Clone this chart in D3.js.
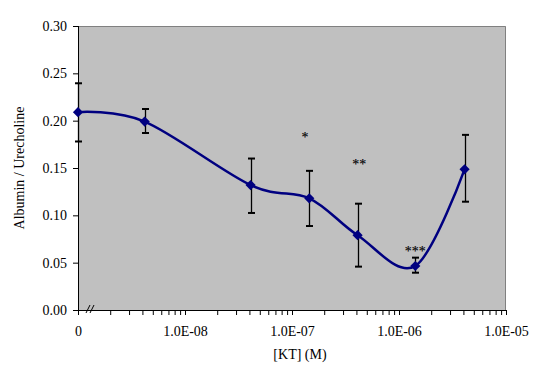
<!DOCTYPE html>
<html>
<head>
<meta charset="utf-8">
<script src="https://cdn.jsdelivr.net/npm/d3@7"></script>
<style>
  body { margin: 0; background: #fff; }
  text { font-family: "Liberation Serif", "Times New Roman", serif; fill: #000; }
</style>
</head>
<body>
<div class="chart"></div>
<script>
// concentrations of KT (M); 0 is the control, drawn at the left end of the log axis
const concentrations = [0, 4.2e-9, 4.1e-8, 1.45e-7, 4.1e-7, 1.42e-6, 4.1e-6];
const ratios = [0.209, 0.199, 0.132, 0.118, 0.079, 0.0465, 0.1486];
const errUpper = [0.2395, 0.2123, 0.160, 0.147, 0.1123, 0.0553, 0.185];
const errLower = [0.178, 0.187, 0.1025, 0.0887, 0.0458, 0.0394, 0.1144];

// significance marks
const marks = ["*", "**", "***"];
const markX = [1.32e-7, 4.26e-7, 1.42e-6];
const markY = [0.1856, 0.1567, 0.065];

const xTickValues = [1e-9, 1e-8, 1e-7, 1e-6, 1e-5];
const xTickLabels = ["0", "1.0E-08", "1.0E-07", "1.0E-06", "1.0E-05"];
const yTickValues = [0, 0.05, 0.10, 0.15, 0.20, 0.25, 0.30];

const width = 545;
const height = 373;
const margin = { top: 26, right: 39, bottom: 63, left: 78 };
const innerW = width - margin.left - margin.right;
const innerH = height - margin.top - margin.bottom;

const svg = d3.select(".chart").append("svg")
  .attr("width", width)
  .attr("height", height);

const g = svg.append("g")
  .attr("transform", `translate(${margin.left},${margin.top})`);

const x = d3.scaleLog()
  .domain([1e-9, 1e-5])
  .range([0, innerW]);
const xPos = c => x(c === 0 ? 1e-9 : c);

const y = d3.scaleLinear()
  .domain([0, 0.30])
  .range([innerH, 0]);

// plot area
g.append("rect")
  .attr("width", innerW)
  .attr("height", innerH)
  .attr("fill", "#c0c0c0");
g.append("path")
  .attr("d", `M0,0.5H${innerW - 0.5}V${innerH}`)
  .attr("fill", "none")
  .attr("stroke", "#808080")
  .attr("stroke-width", 1);

// y axis
const yAxis = g.append("g")
  .call(d3.axisLeft(y).tickValues(yTickValues).tickFormat(d3.format(".2f")).tickSize(5).tickPadding(6));
yAxis.selectAll("text").style("font-size", "14px");
yAxis.selectAll("line, path").attr("stroke", "#000");
yAxis.select(".domain").attr("d", `M0.5,0V${innerH}`);

// x axis: minor ticks 2..9 each decade
const minor = [];
for (let e = -9; e < -5; e++) {
  for (let m = 2; m <= 9; m++) minor.push(m * Math.pow(10, e));
}
const xAxis = g.append("g")
  .attr("transform", `translate(0,${innerH})`)
  .call(d3.axisBottom(x).tickValues(xTickValues.concat(minor))
    .tickFormat(d => {
      const i = xTickValues.indexOf(d);
      return i >= 0 ? xTickLabels[i] : "";
    })
    .tickSize(5).tickPadding(11));
xAxis.selectAll("text").style("font-size", "14px");
xAxis.selectAll("line, path").attr("stroke", "#000");
xAxis.select(".domain").attr("d", `M0,0.5H${innerW}`);

// axis break mark
const brk = g.append("g").attr("stroke", "#000").attr("stroke-width", 1);
[8, 12].forEach(dx => {
  brk.append("line")
    .attr("x1", dx).attr("y1", innerH + 3)
    .attr("x2", dx + 4).attr("y2", innerH - 5);
});

// axis titles
svg.append("text")
  .attr("x", margin.left + innerW / 2 + 8)
  .attr("y", 359)
  .attr("text-anchor", "middle")
  .style("font-size", "14px")
  .text("[KT] (M)");

svg.append("text")
  .attr("transform", `translate(24,${margin.top + innerH / 2}) rotate(-90)`)
  .attr("text-anchor", "middle")
  .style("font-size", "14px")
  .text("Albumin / Urecholine");

const points = concentrations.map((c, i) => ({ c, v: ratios[i], hi: errUpper[i], lo: errLower[i] }));

// error bars
const eb = g.append("g").attr("stroke", "#000");
points.forEach(d => {
  const px = Math.round(xPos(d.c)) + 0.5;
  eb.append("line")
    .attr("x1", px).attr("x2", px)
    .attr("y1", y(d.hi)).attr("y2", y(d.lo))
    .attr("stroke-width", 1.3);
  [d.hi, d.lo].forEach(v => {
    eb.append("line")
      .attr("x1", px - 3.5).attr("x2", px + 3.5)
      .attr("y1", y(v)).attr("y2", y(v))
      .attr("stroke-width", 2);
  });
});

// smoothed line
const line = d3.line()
  .x(d => xPos(d.c))
  .y(d => y(d.v))
  .curve(d3.curveCardinal.tension(0));
g.append("path")
  .datum(points)
  .attr("d", line)
  .attr("fill", "none")
  .attr("stroke", "#000080")
  .attr("stroke-width", 2.5);

// diamond markers
g.append("g")
  .selectAll("path")
  .data(points)
  .enter().append("path")
  .attr("d", d3.symbol(d3.symbolSquare, 52))
  .attr("transform", d => `translate(${xPos(d.c)},${y(d.v)}) rotate(45)`)
  .attr("fill", "#000080");

// significance marks
g.append("g")
  .selectAll("text")
  .data(marks)
  .enter().append("text")
  .attr("x", (d, i) => x(markX[i]))
  .attr("y", (d, i) => y(markY[i]))
  .attr("dy", "0.55em")
  .attr("text-anchor", "middle")
  .style("font-size", "14px")
  .style("stroke", "#000")
  .style("stroke-width", "0.15px")
  .text(d => d);
</script>
</body>
</html>
